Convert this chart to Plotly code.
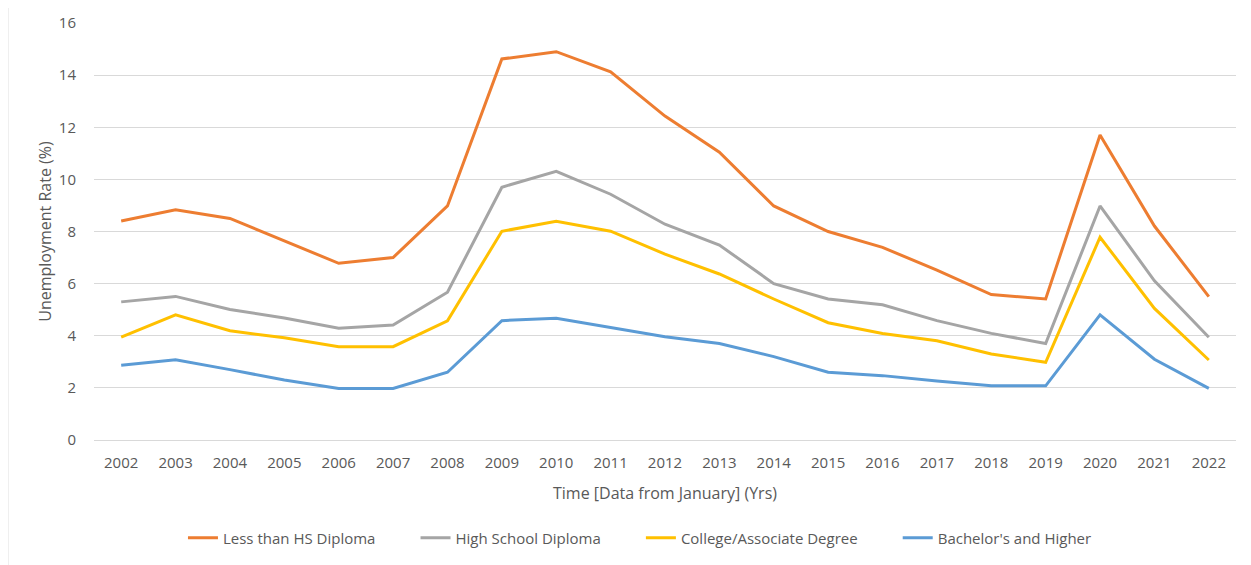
import plotly.graph_objects as go

years = [str(y) for y in range(2002, 2023)]
less_than_hs = [8.4, 8.83, 8.5, 7.63, 6.78, 7.0, 8.98, 14.62, 14.9, 14.13, 12.43, 11.04, 8.98, 8.0, 7.39, 6.52, 5.58, 5.41, 11.7, 8.21, 5.5]
high_school = [5.3, 5.51, 5.01, 4.68, 4.29, 4.41, 5.67, 9.7, 10.31, 9.43, 8.28, 7.48, 6.0, 5.41, 5.19, 4.58, 4.09, 3.7, 8.98, 6.11, 3.94]
college = [3.95, 4.8, 4.19, 3.92, 3.58, 3.58, 4.57, 8.01, 8.39, 8.01, 7.13, 6.37, 5.41, 4.5, 4.09, 3.81, 3.3, 2.98, 7.78, 5.05, 3.07]
bachelors = [2.87, 3.08, 2.7, 2.3, 1.98, 1.98, 2.6, 4.58, 4.67, 4.31, 3.96, 3.7, 3.2, 2.6, 2.47, 2.26, 2.08, 2.08, 4.8, 3.1, 1.98]

series = [
    ("Less than HS Diploma", less_than_hs, "#ED7D31"),
    ("High School Diploma", high_school, "#A5A5A5"),
    ("College/Associate Degree", college, "#FFC000"),
    ("Bachelor's and Higher", bachelors, "#5B9BD5"),
]

pad = "\u00a0" * 9
fig = go.Figure()
for name, vals, color in series:
    fig.add_trace(go.Scatter(x=years, y=vals, name=name + pad, mode="lines",
                             line=dict(color=color, width=3)))

txt = "#595959"
# page has an 8px body margin, so the figure is 8px smaller and margins shifted
fig.update_layout(
    width=1243, height=557,
    margin=dict(l=86, r=15, t=15, b=125, autoexpand=False),
    paper_bgcolor="white", plot_bgcolor="white",
    font=dict(family="Open Sans", size=15, color=txt),
    showlegend=True,
    legend=dict(orientation="h", x=0.0779, xanchor="left", y=-0.235, yanchor="middle",
                font=dict(size=15, color=txt), tracegroupgap=0),
    xaxis=dict(type="category", range=[-0.5, 20.5], showgrid=False, zeroline=False,
               showline=False, ticks="", ticklabelstandoff=12, automargin=False,
               title=dict(text="Time [Data from January] (Yrs)", font=dict(size=16, color=txt), standoff=16)),
    yaxis=dict(range=[0, 16], dtick=2, showgrid=True, gridcolor="#D9D9D9", gridwidth=1,
               zeroline=True, zerolinecolor="#D9D9D9", zerolinewidth=1, showline=False,
               ticks="", ticklabelstandoff=17, automargin=False,
               title=dict(text="Unemployment Rate (%)", font=dict(size=16, color=txt), standoff=3)),
)

fig.add_shape(type="line", xref="paper", yref="paper", x0=-0.0753, x1=-0.0753, y0=-0.31, y1=1.04,
              line=dict(color="#E0E0E0", width=1))

fig.write_html("out.html")
